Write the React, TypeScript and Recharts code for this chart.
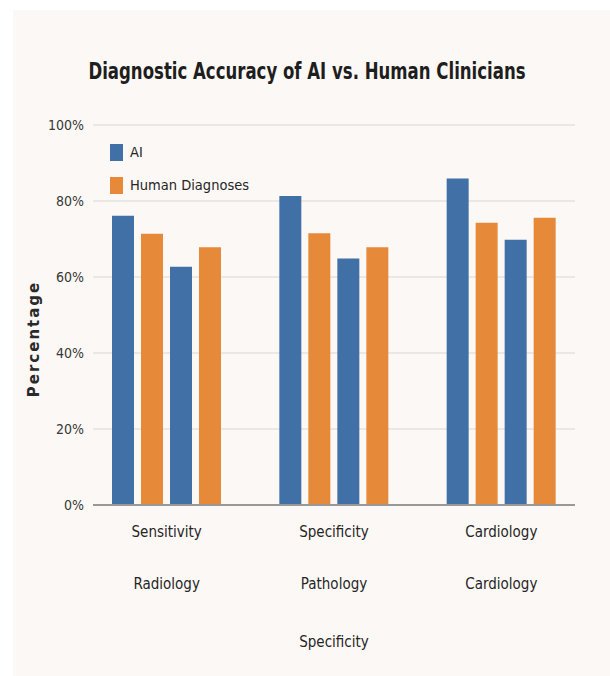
import React from "react";
import { BarChart, Bar, XAxis, YAxis, CartesianGrid, Legend } from "recharts";

const CATEGORIES = [
  ["Sensitivity", "Radiology"],
  ["Specificity", "Pathology", "Specificity"],
  ["Cardiology", "Cardiology"],
];
const AI_FIRST = [76.1, 81.3, 85.9];
const HUMAN_FIRST = [71.4, 71.5, 74.3];
const AI_SECOND = [62.7, 64.9, 69.8];
const HUMAN_SECOND = [67.8, 67.8, 75.6];
const Y_TICKS = [0, 20, 40, 60, 80, 100];

const BLUE = "#4070a5";
const ORANGE = "#e68a3a";
const NARROW = "'DejaVu Sans Condensed', 'Liberation Sans Narrow', sans-serif";

const data = CATEGORIES.map((lines, i) => ({
  key: lines.join(" / "),
  lines,
  ai1: AI_FIRST[i],
  hu1: HUMAN_FIRST[i],
  ai2: AI_SECOND[i],
  hu2: HUMAN_SECOND[i],
}));

// category label is split over several lines, widely spaced
function CategoryTick(props: any) {
  const { x, y, payload } = props;
  const lines: string[] = data[payload.index]?.lines ?? [String(payload.value)];
  const offsets = [32, 84, 142];
  return (
    <g>
      {lines.map((l, i) => (
        <text
          key={i}
          x={x}
          y={y + offsets[i]}
          textAnchor="middle"
          fontFamily={NARROW}
          fontSize={15}
          fill="#262626"
        >
          {l}
        </text>
      ))}
    </g>
  );
}

function PercentLabel() {
  return (
    <text
      x={39}
      y={339}
      transform="rotate(-90 39 339)"
      textAnchor="middle"
      fontFamily="'DejaVu Sans', sans-serif"
      fontWeight="bold"
      fontSize={15}
      letterSpacing={2}
      fill="#2a2a2a"
    >
      Percentage
    </text>
  );
}

function LegendBox(props: any) {
  const items = (props.payload ?? []).filter((p: any) => p.type !== "none");
  return (
    <div style={{ display: "flex", flexDirection: "column", gap: 15 }}>
      {items.map((p: any) => (
        <div key={p.value} style={{ display: "flex", alignItems: "center", height: 18 }}>
          <span style={{ width: 13, height: 17, background: p.color, display: "inline-block", marginRight: 7 }} />
          <span style={{ fontFamily: NARROW, fontSize: 14.5, color: "#262626" }}>{p.value}</span>
        </div>
      ))}
    </div>
  );
}

export default function App() {
  return (
    <div style={{ position: "absolute", left: 0, top: 0, width: 610, height: 676, background: "#ffffff" }}>
      <div style={{ position: "absolute", left: 13, top: 10, width: 597, height: 666, background: "#fcf8f5" }} />
      <div
        style={{
          position: "absolute",
          left: 0,
          top: 58,
          width: 614,
          textAlign: "center",
          fontFamily: NARROW,
          fontWeight: "bold",
          fontSize: 23,
          color: "#1e1e1e",
          transform: "scaleX(0.8)",
        }}
      >
        Diagnostic Accuracy of AI vs. Human Clinicians
      </div>
      <div style={{ position: "absolute", left: 0, top: 0 }}>
        <BarChart
          width={610}
          height={676}
          data={data}
          margin={{ top: 125, right: 35, bottom: 0, left: 43 }}
          barSize={22}
          barGap={7}
        >
          <CartesianGrid vertical={false} stroke="#e6e2de" strokeWidth={1.5} />
          <XAxis
            dataKey="key"
            axisLine={{ stroke: "#999", strokeWidth: 2 }}
            tickLine={false}
            tick={<CategoryTick />}
            padding={{ left: -10, right: -10 }}
            height={171}
            tickMargin={0}
            tickSize={0}
            interval={0}
          />
          <YAxis
            domain={[0, 100]}
            ticks={Y_TICKS}
            width={50}
            axisLine={false}
            tickLine={false}
            tickSize={0}
            tickMargin={9}
            tickFormatter={(v) => `${v}%`}
            tick={{ fontFamily: NARROW, fontSize: 14, fill: "#383838" }}
            label={<PercentLabel />}
          />
          <Legend
            layout="horizontal"
            verticalAlign="middle"
            align="center"
            content={<LegendBox />}
            wrapperStyle={{ position: "absolute", left: 110, top: 143, width: 200 }}
          />
          <Bar dataKey="ai1" name="AI" fill={BLUE} isAnimationActive={false} />
          <Bar dataKey="hu1" name="Human Diagnoses" fill={ORANGE} isAnimationActive={false} />
          <Bar dataKey="ai2" name="AI" fill={BLUE} legendType="none" isAnimationActive={false} />
          <Bar dataKey="hu2" name="Human Diagnoses" fill={ORANGE} legendType="none" isAnimationActive={false} />
        </BarChart>
      </div>
    </div>
  );
}
